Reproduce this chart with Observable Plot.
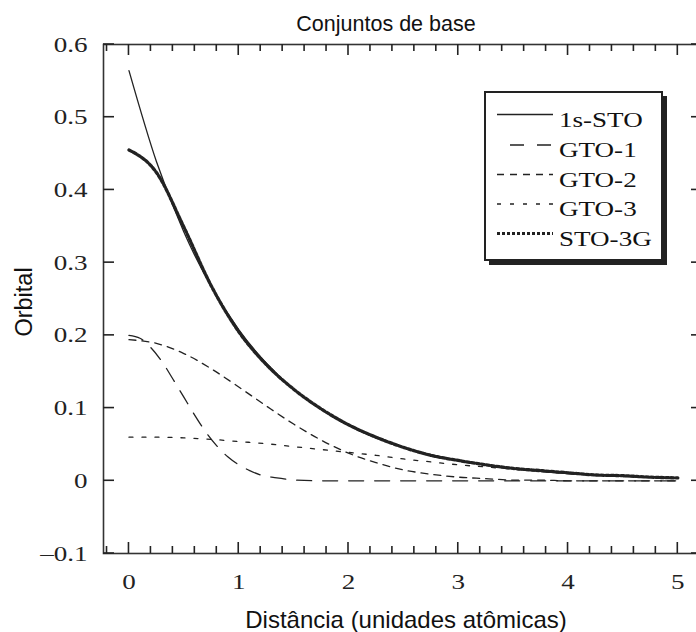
<!DOCTYPE html>
<html>
<head>
<meta charset="utf-8">
<script src="https://cdn.jsdelivr.net/npm/d3@7"></script>
<script src="https://cdn.jsdelivr.net/npm/@observablehq/plot@0.6"></script>
<style>
  html, body { margin: 0; padding: 0; background: white; overflow: hidden; }
  #chart { position: relative; width: 696px; height: 632px; }
</style>
</head>
<body>
<div id="chart"></div>
<script>
// Distance grid (atomic units) shared by most series
const r = [0, 0.25, 0.5, 0.75, 1, 1.25, 1.5, 1.75, 2, 2.25, 2.5, 2.75, 3, 3.25, 3.5, 3.75, 4, 4.25, 4.5, 4.75, 5];
// Slater 1s orbital
const sto1s = [0.564, 0.439, 0.342, 0.267, 0.208, 0.162, 0.126, 0.098, 0.076, 0.059, 0.046, 0.036, 0.028, 0.022, 0.017, 0.013, 0.010, 0.008, 0.006, 0.005, 0.004];
// Gaussian primitives (scaled by their contraction coefficients)
const rGto1 = [0, 0.1, 0.2, 0.3, 0.4, 0.5, 0.6, 0.7, 0.8, 0.9, 1.0, 1.1, 1.2, 1.3, 1.4, 1.5, 1.75, 2, 2.5, 3, 3.5, 4, 4.5, 5];
const gto1 = [0.200, 0.196, 0.183, 0.164, 0.140, 0.115, 0.090, 0.067, 0.048, 0.033, 0.022, 0.014, 0.008, 0.005, 0.003, 0.001, 0, 0, 0, 0, 0, 0, 0, 0];
const gto2 = [0.194, 0.189, 0.175, 0.154, 0.129, 0.103, 0.078, 0.056, 0.038, 0.025, 0.015, 0.009, 0.005, 0.003, 0.001, 0.001, 0, 0, 0, 0, 0];
const gto3 = [0.060, 0.060, 0.059, 0.057, 0.054, 0.051, 0.047, 0.043, 0.039, 0.035, 0.030, 0.026, 0.022, 0.019, 0.016, 0.013, 0.010, 0.008, 0.006, 0.005, 0.004];
// Contracted STO-3G function
const sto3g = [0.455, 0.424, 0.349, 0.268, 0.205, 0.160, 0.126, 0.099, 0.077, 0.060, 0.046, 0.035, 0.028, 0.022, 0.017, 0.014, 0.011, 0.008, 0.007, 0.005, 0.004];

const seriesNames = ["1s-STO", "GTO-1", "GTO-2", "GTO-3", "STO-3G"];

// Axis ticks and labels
const xTicks = [0, 1, 2, 3, 4, 5];
const xTickLabels = ["0", "1", "2", "3", "4", "5"];
const xMinorTicks = [-0.2, 0.2, 0.4, 0.6, 0.8, 1.2, 1.4, 1.6, 1.8, 2.2, 2.4, 2.6, 2.8, 3.2, 3.4, 3.6, 3.8, 4.2, 4.4, 4.6, 4.8];
const yTicks = [-0.1, 0, 0.1, 0.2, 0.3, 0.4, 0.5, 0.6];
const yTickLabels = ["\u20130.1", "0", "0.1", "0.2", "0.3", "0.4", "0.5", "0.6"];

const titleText = "Conjuntos de base";
const xLabelText = "Dist\u00e2ncia (unidades at\u00f4micas)";
const yLabelText = "Orbital";

// Tidy table built from the arrays above
const rows = [
  ...r.map((d, i) => ({r: d, v: sto1s[i], s: "1s-STO"})),
  ...rGto1.map((d, i) => ({r: d, v: gto1[i], s: "GTO-1"})),
  ...r.map((d, i) => ({r: d, v: gto2[i], s: "GTO-2"})),
  ...r.map((d, i) => ({r: d, v: gto3[i], s: "GTO-3"})),
  ...r.map((d, i) => ({r: d, v: sto3g[i], s: "STO-3G"}))
];

const ink = "#222";
const lineStyles = {
  "1s-STO": {strokeWidth: 1.3, dash: null},
  "GTO-1": {strokeWidth: 1.3, dash: "15,11"},
  "GTO-2": {strokeWidth: 1.3, dash: "7,6"},
  "GTO-3": {strokeWidth: 1.3, dash: "4,9"},
  "STO-3G": {strokeWidth: 3.3, dash: "3,2"}
};

const drawOrder = ["GTO-1", "GTO-2", "GTO-3", "1s-STO", "STO-3G"];
const lineMarks = drawOrder.map(name => Plot.line(rows.filter(d => d.s === name), {
  x: "r", y: "v", stroke: ink, strokeWidth: lineStyles[name].strokeWidth,
  strokeDasharray: lineStyles[name].dash, curve: "monotone-x"
}));

// Frame geometry (pixels)
const plotW = 702, plotH = 632, mL = 103, mR = 0, mT = 44, mB = 79;
const majorLen = 11, minorLen = 7;

const chartSvg = Plot.plot({
  width: plotW,
  height: plotH,
  marginLeft: mL,
  marginRight: mR,
  marginTop: mT,
  marginBottom: mB,
  x: {domain: [-0.232, 5.225], ticks: xTicks, tickSize: 0, tickPadding: 20,
      tickFormat: d => xTickLabels[xTicks.indexOf(d)], label: null},
  y: {domain: [-0.1, 0.6], ticks: yTicks, tickSize: 0, tickPadding: 16,
      tickFormat: d => yTickLabels[yTicks.indexOf(d)], label: null},
  style: {fontFamily: "'Liberation Serif', 'Times New Roman', serif", fontSize: "22px", color: ink, background: "white", maxWidth: "none"},
  marks: [
    ...lineMarks,
    Plot.frame({stroke: "#333", strokeWidth: 1.6})
  ]
});

document.getElementById("chart").appendChild(chartSvg);

// Widen the serif tick labels slightly (book-style wide serif)
const sx = 1.23;
d3.select(chartSvg).selectAll("text").each(function () {
  const t = this.textContent;
  if (!t) return;
  const tr = this.getAttribute("transform");
  if (tr) {
    this.setAttribute("transform", tr + ` scale(${sx},1)`);
  } else {
    const x = +this.getAttribute("x") || 0, y = +this.getAttribute("y") || 0;
    this.removeAttribute("x"); this.removeAttribute("y");
    this.setAttribute("transform", `translate(${x},${y}) scale(${sx},1)`);
  }
});

const root = d3.select(chartSvg);
const xScale = chartSvg.scale("x"), yScale = chartSvg.scale("y");
const fTop = mT, fBottom = plotH - mB, fLeft = mL, fRight = plotW - mR;

// Inward tick marks on all four sides, positioned by the plot's scales
const tickGroup = root.append("g").attr("stroke", ink).attr("stroke-width", 1.6);
[[xTicks, majorLen], [xMinorTicks, minorLen]].forEach(([vals, len]) => vals.forEach(v => {
  const px = xScale.apply(v);
  tickGroup.append("line").attr("x1", px).attr("x2", px).attr("y1", fBottom).attr("y2", fBottom - len);
  tickGroup.append("line").attr("x1", px).attr("x2", px).attr("y1", fTop).attr("y2", fTop + len);
}));
yTicks.forEach(v => {
  const py = yScale.apply(v);
  tickGroup.append("line").attr("x1", fLeft).attr("x2", fLeft + majorLen).attr("y1", py).attr("y2", py);
  tickGroup.append("line").attr("x1", fRight).attr("x2", fRight - majorLen).attr("y1", py).attr("y2", py);
});

const sans = "'Liberation Sans', Arial, sans-serif";
const serif = "'Liberation Serif', 'Times New Roman', serif";

// Title and axis titles
root.append("text").attr("x", 386).attr("y", 31).attr("text-anchor", "middle")
  .attr("font-family", sans).attr("font-size", 21.5).attr("fill", "#111").text(titleText);
root.append("text").attr("x", 406).attr("y", 628).attr("text-anchor", "middle")
  .attr("font-family", sans).attr("font-size", 24).attr("fill", "#111").text(xLabelText);
root.append("text").attr("transform", "translate(31.5,302) rotate(-90)").attr("text-anchor", "middle")
  .attr("font-family", sans).attr("font-size", 23.5).attr("fill", "#111").text(yLabelText);

// Legend box with drop shadow
const lg = root.append("g");
lg.append("rect").attr("x", 489).attr("y", 96).attr("width", 178).attr("height", 169).attr("fill", ink);
lg.append("rect").attr("x", 485).attr("y", 92).attr("width", 177).attr("height", 168)
  .attr("fill", "white").attr("stroke", ink).attr("stroke-width", 2);
const rowY = [114.5, 145, 174.5, 204, 233.5];
seriesNames.forEach((name, i) => {
  const y = rowY[i];
  const st = lineStyles[name];
  const x1 = name === "GTO-1" ? 510 : 497;
  lg.append("line").attr("x1", x1).attr("x2", 553).attr("y1", y).attr("y2", y)
    .attr("stroke", ink).attr("stroke-width", name === "STO-3G" ? 3 : 1.3)
    .attr("stroke-dasharray", name === "GTO-1" ? "14,13" : st.dash);
  lg.append("text").attr("transform", `translate(559,${y + 12}) scale(${sx},1)`)
    .attr("text-anchor", "start")
    .attr("font-family", serif).attr("font-size", 22).attr("fill", "#111").text(name);
});
</script>
</body>
</html>
